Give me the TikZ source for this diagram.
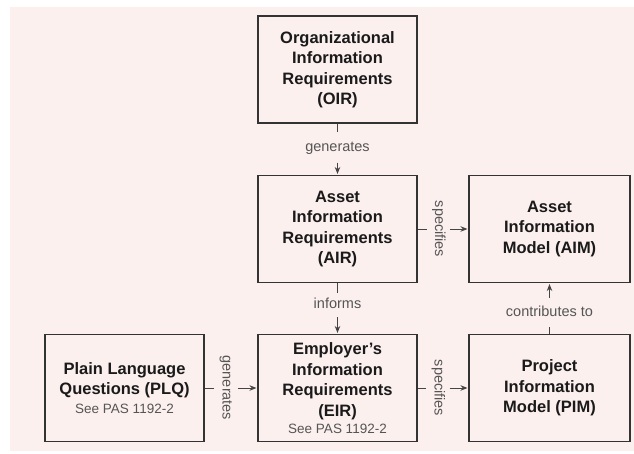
\documentclass[tikz,border=0pt]{standalone}
\usepackage{fontspec}
\setmainfont{Liberation Sans}
\usetikzlibrary{arrows.meta}
\definecolor{bg}{HTML}{FCF0EF}
\definecolor{boxc}{HTML}{333333}
\definecolor{txt}{HTML}{1A1A1A}
\definecolor{lblc}{HTML}{555555}
\definecolor{linec}{HTML}{444444}
\begin{document}
\begin{tikzpicture}[x=1pt,y=-1pt,
  box/.style={draw=boxc, line width=1.9pt, minimum width=159pt, minimum height=107pt,
    inner sep=0pt, align=center, text=txt, font=\fontsize{16.5}{20.5}\selectfont\bfseries},
  lbl/.style={text=lblc, font=\fontsize{14.5}{17}\selectfont, text height=10pt, text depth=3pt, inner xsep=2pt},
  conn/.style={draw=linec, line width=1pt},
  arr/.style={conn, -{Stealth[length=7pt,width=5.5pt]}, shorten >=0.6pt}]
\fill[white] (0,0) rectangle (634,453);
\fill[bg] (10,7) rectangle (634,451);
\useasboundingbox (0,0) rectangle (634,453);
\newcommand{\seepas}{{\fontsize{13.5}{16}\selectfont\mdseries\color{lblc}See PAS 1192-2}}
% boxes
\node[box] (OIR) at (337.5,69.5) {Organizational\\Information\\Requirements\\(OIR)};
\node[box] (AIR) at (337.5,229) {Asset\\Information\\Requirements\\(AIR)};
\node[box, minimum width=161pt] (AIM) at (549.5,229) {Asset\\Information\\Model (AIM)};
\node[box] (PLQ) at (124.5,388) {Plain Language\\Questions (PLQ)\\[-2pt]\seepas};
\node[box] (EIR) at (337.5,388) {Employer’s\\Information\\Requirements\\(EIR)\\[-3.5pt]\seepas};
\node[box, minimum width=161pt] (PIM) at (549.5,388) {Project\\Information\\Model (PIM)};
% labels
\node[lbl, inner ysep=8.5pt] (gen1) at (337.5,147.5) {generates};
\node[lbl, inner ysep=5.5pt] (inf) at (337.5,305) {informs};
\node[lbl, inner ysep=8pt] (con) at (549.5,312.5) {contributes to};
\node[lbl, rotate=-90, inner ysep=5pt] (spec1) at (438.5,229) {specifies};
\node[lbl, rotate=-90, inner ysep=5.5pt] (gen2) at (226,388) {generates};
\node[lbl, rotate=-90, inner ysep=5pt] (spec2) at (438,388) {specifies};
% connectors
\draw[conn] (OIR) -- (gen1);
\draw[arr] (gen1) -- (AIR);
\draw[conn] (AIR) -- (inf);
\draw[arr] (inf) -- (EIR);
\draw[conn] (AIR) -- (spec1);
\draw[arr] (spec1) -- (AIM);
\draw[conn] (PLQ) -- (gen2);
\draw[arr] (gen2) -- (EIR);
\draw[conn] (EIR) -- (spec2);
\draw[arr] (spec2) -- (PIM);
\draw[conn] (PIM) -- (con);
\draw[arr] (con) -- (AIM);
\end{tikzpicture}
\end{document}
